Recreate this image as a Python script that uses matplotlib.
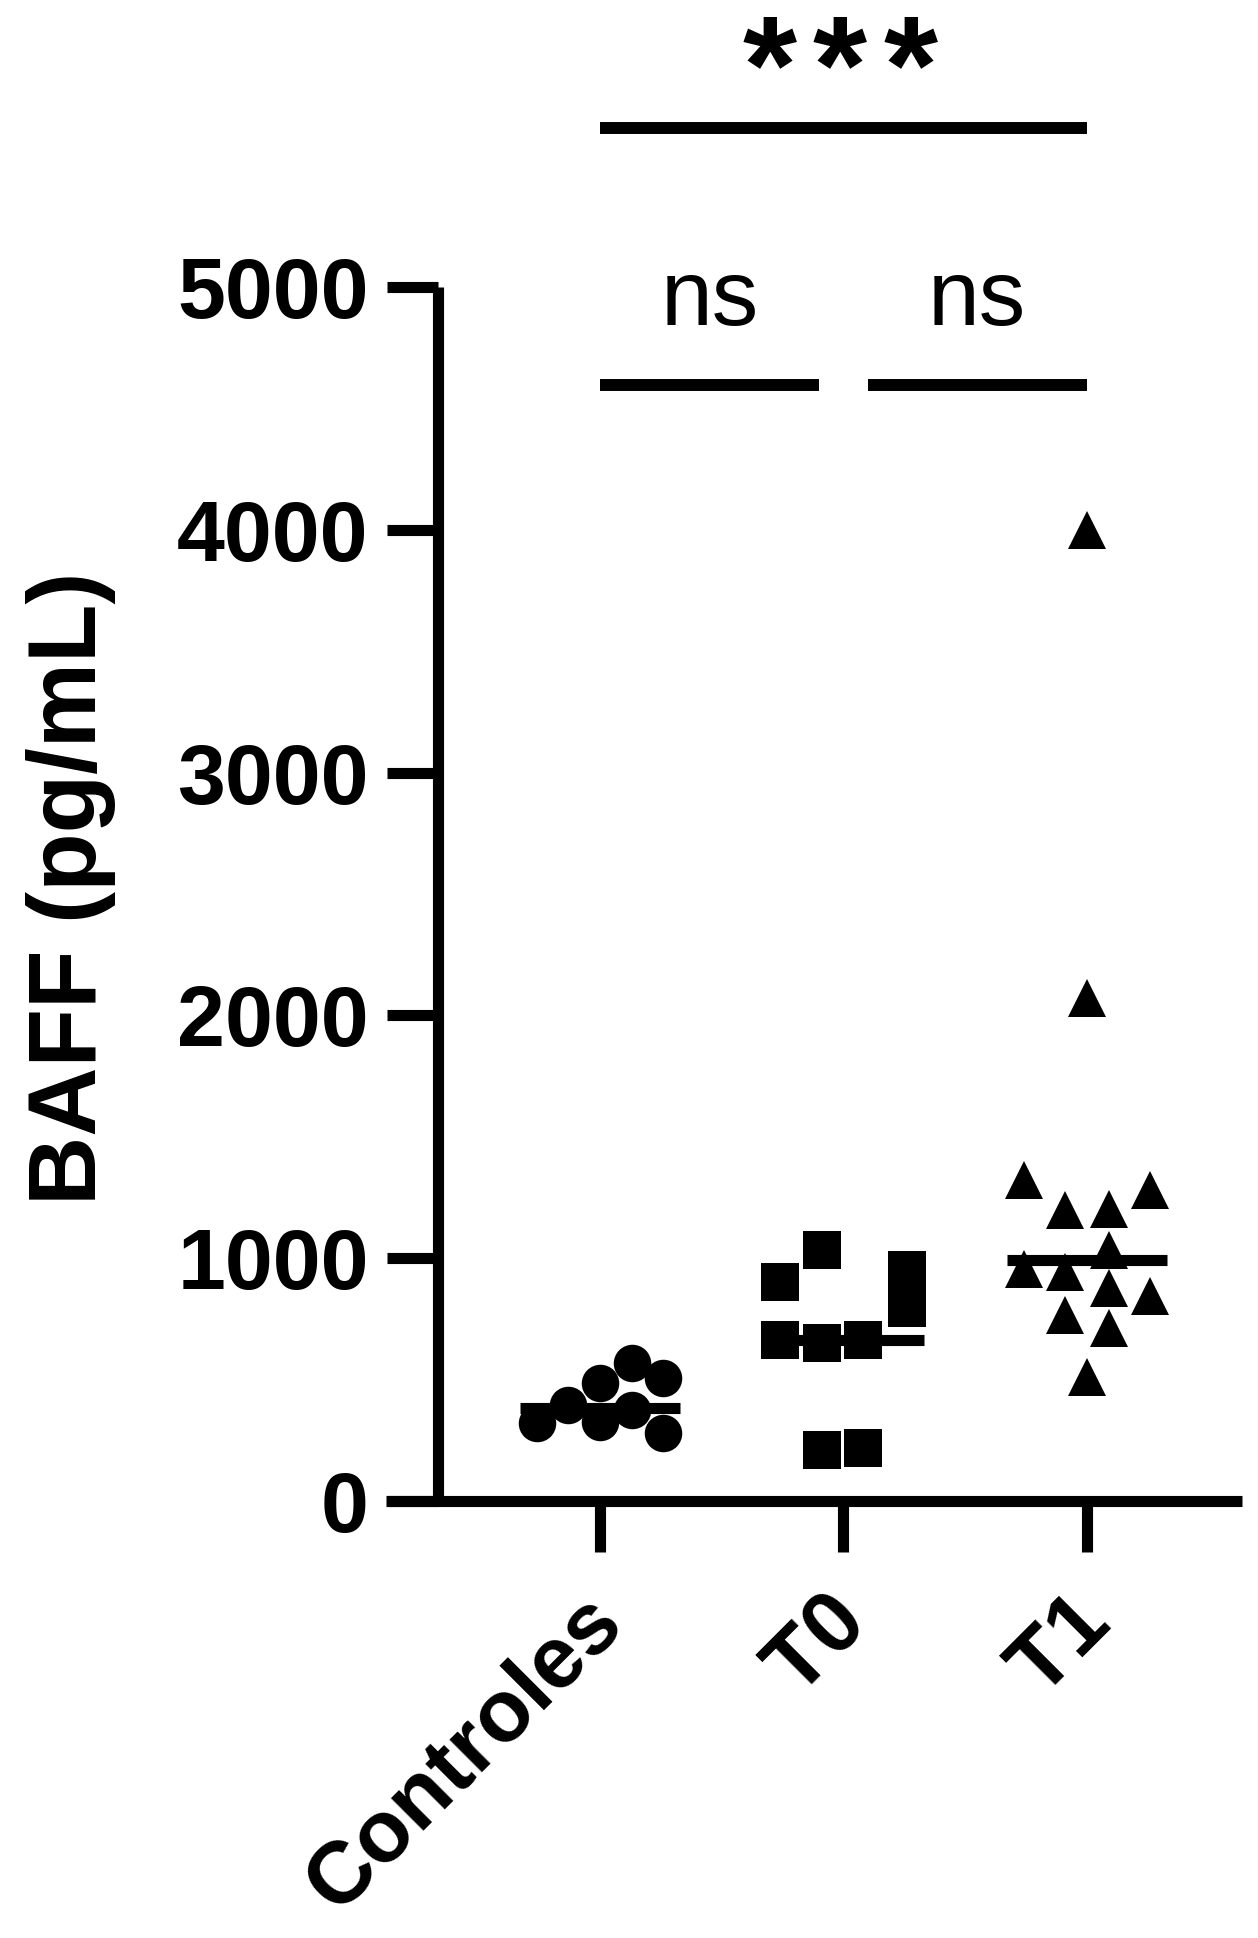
import numpy as np
import matplotlib
matplotlib.use("Agg")
import matplotlib.pyplot as plt
import matplotlib.transforms as mtransforms

plt.rcParams['font.family'] = ['Liberation Sans', 'DejaVu Sans']

# data (pg/mL)
groups = ["Controles", "T0", "T1"]
controles = [321, 395, 486, 325, 568, 375, 507, 280]
t0 = [902, 1034, 951, 795, 663, 650, 663, 210, 218]
t1 = [1322, 1198, 1202, 1281, 1034, 955, 943, 877, 844, 766, 712, 511, 2070, 4000]

# horizontal scatter (jitter) of each point, in category units
controles_dx = [-0.26, -0.13, 0.0, 0.0, 0.13, 0.13, 0.26, 0.26]
t0_dx = [-0.26, -0.09, 0.26, 0.26, -0.26, -0.09, 0.08, -0.09, 0.08]
t1_dx = [-0.26, -0.09, 0.09, 0.26, 0.09, -0.26, -0.09, 0.09, 0.26, -0.09, 0.09, 0.0, 0.0, 0.0]

markers = ["o", "s", "^"]
yticks = [0, 1000, 2000, 3000, 4000, 5000]

W, H = 1258, 1938
fig = plt.figure(figsize=(W / 100, H / 100), dpi=100)
ax = fig.add_axes([386 / W, 1 - 1501 / H, (1242 - 386) / W, (1501 - 287) / H])

lw = 8.0
all_data = [controles, t0, t1]
all_dx = [controles_dx, t0_dx, t1_dx]
for i, (vals, dx, m) in enumerate(zip(all_data, all_dx, markers)):
    xs = i + np.array(dx)
    ax.plot(xs, vals, linestyle="none", marker=m, markersize=27,
            color="black", markeredgewidth=0, clip_on=False, zorder=3)
    med = np.median(vals)
    ax.plot([i - 0.33, i + 0.33], [med, med], color="black", lw=lw,
            solid_capstyle="butt", zorder=4)

ax.set_xlim(-0.879, 2.637)
ax.set_ylim(0, 5000)
ax.spines["left"].set_position(("data", -0.665))
ax.spines["right"].set_visible(False)
ax.spines["top"].set_visible(False)
for s in ["left", "bottom"]:
    ax.spines[s].set_linewidth(lw)
    ax.spines[s].set_capstyle("butt")

ax.set_yticks(yticks)
ax.set_yticklabels([str(v) for v in yticks], fontsize=62, fontweight="bold")
ax.tick_params(axis="y", length=37, width=lw, pad=13, direction="out")
ax.set_xticks(range(len(groups)))
ax.set_xticklabels(groups, fontsize=63, fontweight="bold", rotation=45,
                   ha="right", va="center", rotation_mode="anchor")
ax.tick_params(axis="x", length=37, width=lw, pad=41, direction="out")
shift = mtransforms.ScaledTranslation(10 / 100, 0, fig.dpi_scale_trans)
for lab in ax.get_xticklabels():
    lab.set_transform(lab.get_transform() + shift)

ax.set_ylabel("BAFF (pg/mL)", fontsize=69, fontweight="bold", va="center")
ax.yaxis.set_label_coords(-0.368, 0.505)

# significance bars
bar_kw = dict(color="black", lw=8.6, solid_capstyle="butt", clip_on=False)
ax.plot([0, 2], [5655, 5655], **bar_kw)
ax.plot([0, 0.9], [4596, 4596], **bar_kw)
ax.plot([1.1, 2], [4596, 4596], **bar_kw)
ax.text(0.45, 4843, "ns", fontsize=67, ha="center", va="baseline")
ax.text(1.55, 4843, "ns", fontsize=67, ha="center", va="baseline")
for k in (-1, 0, 1):
    ax.text(0.985 + 0.29 * k, 5721, "*", fontsize=100, fontweight="bold",
            ha="center", va="baseline")

fig.savefig("out.png", dpi=100, facecolor="white")
